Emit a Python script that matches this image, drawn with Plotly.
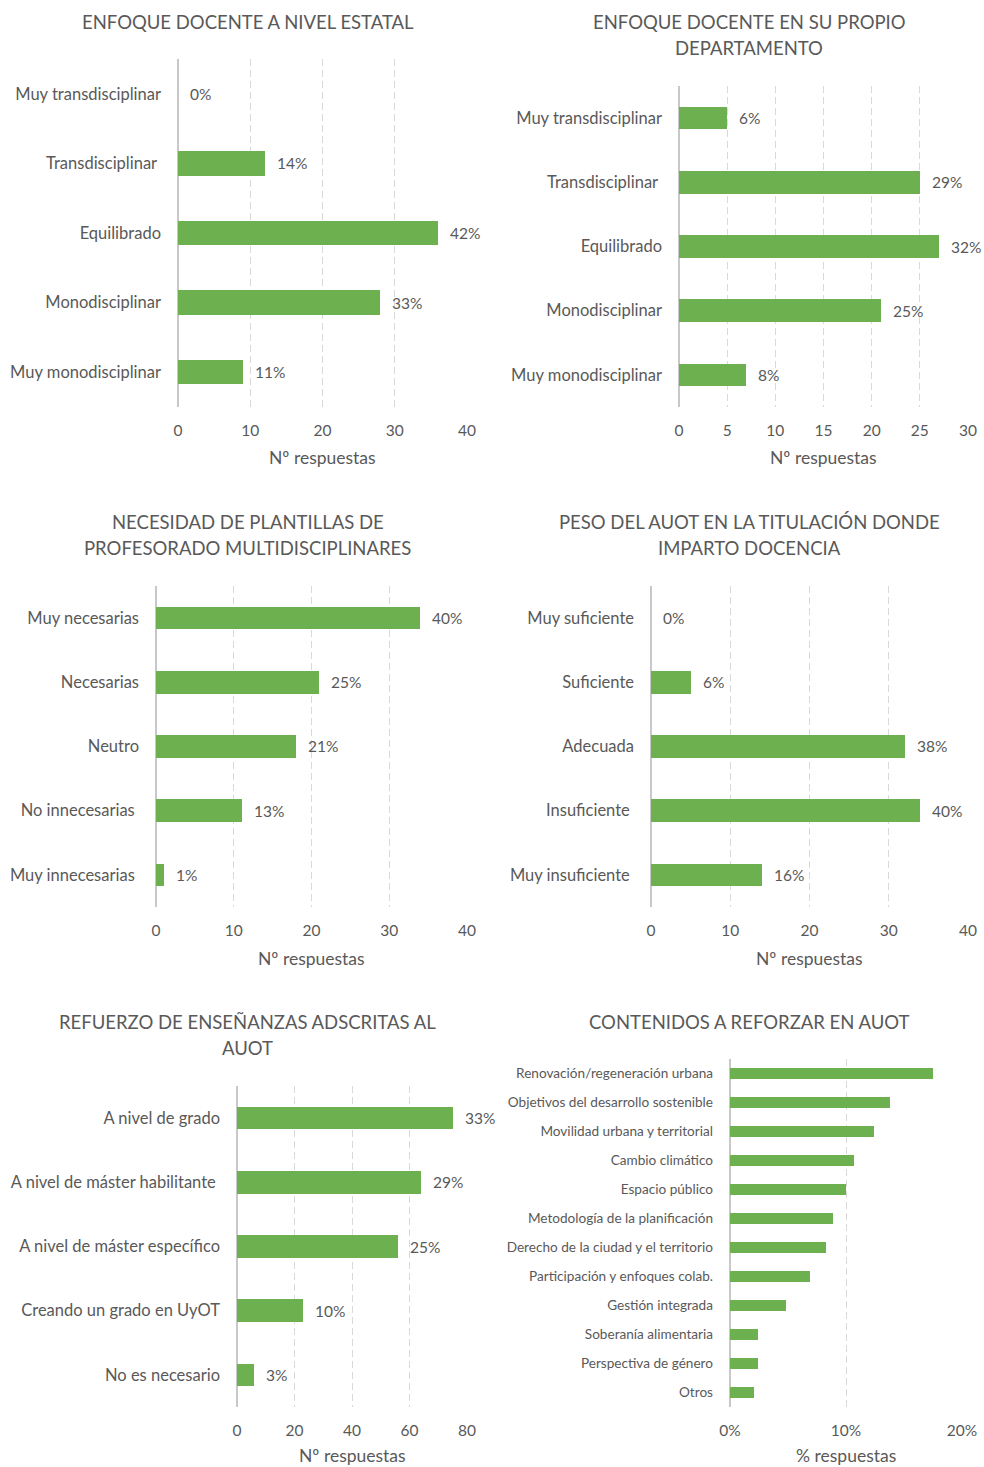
import plotly.graph_objects as go

W, H = 984, 1467
GREEN = "#6DB050"
TXT = "#595959"
GRID = "#D9D9D9"
AXIS = "#C8C8C8"
FONT = "Lato, 'Open Sans', sans-serif"

# ---------------- DATA ----------------
title1 = ["ENFOQUE DOCENTE A NIVEL ESTATAL"]
cat1 = ["Muy transdisciplinar", "Transdisciplinar\u00a0", "Equilibrado", "Monodisciplinar", "Muy monodisciplinar"]
val1 = [0, 12, 36, 28, 9]
lab1 = ["0%", "14%", "42%", "33%", "11%"]

title2 = ["ENFOQUE DOCENTE EN SU PROPIO", "DEPARTAMENTO"]
cat2 = ["Muy transdisciplinar", "Transdisciplinar\u00a0", "Equilibrado", "Monodisciplinar", "Muy monodisciplinar"]
val2 = [5, 25, 27, 21, 7]
lab2 = ["6%", "29%", "32%", "25%", "8%"]

title3 = ["NECESIDAD DE PLANTILLAS DE", "PROFESORADO MULTIDISCIPLINARES"]
cat3 = ["Muy necesarias", "Necesarias", "Neutro", "No innecesarias\u00a0", "Muy innecesarias\u00a0"]
val3 = [34, 21, 18, 11, 1]
lab3 = ["40%", "25%", "21%", "13%", "1%"]

title4 = ["PESO DEL AUOT EN LA TITULACIÓN DONDE", "IMPARTO DOCENCIA"]
cat4 = ["Muy suficiente", "Suficiente", "Adecuada", "Insuficiente\u00a0", "Muy insuficiente\u00a0"]
val4 = [0, 5, 32, 34, 14]
lab4 = ["0%", "6%", "38%", "40%", "16%"]

title5 = ["REFUERZO DE ENSEÑANZAS ADSCRITAS AL", "AUOT"]
cat5 = ["A nivel de grado", "A nivel de máster habilitante\u00a0", "A nivel de máster específico",
        "Creando un grado en UyOT", "No es necesario"]
val5 = [75, 64, 56, 23, 6]
lab5 = ["33%", "29%", "25%", "10%", "3%"]

title6 = ["CONTENIDOS A REFORZAR EN AUOT"]
cat6 = ["Renovación/regeneración urbana", "Objetivos del desarrollo sostenible",
        "Movilidad urbana y territorial", "Cambio climático", "Espacio público",
        "Metodología de la planificación", "Derecho de la ciudad y el territorio",
        "Participación y enfoques colab.", "Gestión integrada", "Soberanía alimentaria",
        "Perspectiva de género", "Otros"]
val6 = [17.5, 13.8, 12.4, 10.7, 10.0, 8.9, 8.25, 6.9, 4.8, 2.4, 2.4, 2.1]

xtitle = "Nº respuestas"
xtitle6 = "% respuestas"

# ---------------- LAYOUT (pixel boxes) ----------------
panels = [
    dict(title=title1, cats=cat1, vals=val1, labs=lab1, box=(178, 467, 59, 407), xmax=40, dtick=10,
         tcx=248, tcy=22, axt=xtitle, axoff=51, suffix="", catsize=16.5, width=0.35),
    dict(title=title2, cats=cat2, vals=val2, labs=lab2, box=(679, 968, 86, 407), xmax=30, dtick=5,
         tcx=749, tcy=22, axt=xtitle, axoff=51, suffix="", catsize=16.5, width=0.35),
    dict(title=title3, cats=cat3, vals=val3, labs=lab3, box=(156, 467, 586, 907), xmax=40, dtick=10,
         tcx=248, tcy=522, axt=xtitle, axoff=51, suffix="", catsize=16.5, width=0.35),
    dict(title=title4, cats=cat4, vals=val4, labs=lab4, box=(651, 968, 586, 907), xmax=40, dtick=10,
         tcx=749, tcy=522, axt=xtitle, axoff=51, suffix="", catsize=16.5, width=0.35),
    dict(title=title5, cats=cat5, vals=val5, labs=lab5, box=(237, 467, 1086, 1407), xmax=80, dtick=20,
         tcx=248, tcy=1022, axt=xtitle, axoff=48, suffix="", catsize=16.5, width=0.35),
    dict(title=title6, cats=cat6, vals=val6, labs=None, box=(730, 962, 1059, 1407), xmax=20, dtick=10,
         tcx=749, tcy=1022, axt=xtitle6, axoff=48, suffix="%", catsize=13.6, width=0.38),
]

fig = go.Figure()
annotations = []

def px_x(p):
    return p / W

def px_y(p):
    return 1 - p / H

for i, p in enumerate(panels, start=1):
    xs = "" if i == 1 else str(i)
    xref, yref = "x" + xs, "y" + xs
    x0, x1, y0, y1 = p["box"]
    fig.add_trace(go.Bar(
        x=p["vals"], y=p["cats"], orientation="h",
        marker=dict(color=GREEN, line=dict(width=0)),
        width=p["width"], xaxis=xref, yaxis=yref, showlegend=False,
        hoverinfo="x+y",
    ))
    n = len(p["cats"])
    fig.layout["xaxis" + xs] = dict(
        domain=[px_x(x0), px_x(x1)], anchor=yref, range=[0, p["xmax"]], dtick=p["dtick"],
        tick0=0, ticksuffix=p["suffix"], showgrid=True, gridcolor=GRID, griddash="7px,4px",
        gridwidth=1, zeroline=True, zerolinecolor=AXIS, zerolinewidth=1.5, showline=False,
        ticks="", tickfont=dict(family=FONT, size=15.5, color=TXT), ticklabelstandoff=12,
        fixedrange=True, automargin=False,
    )
    fig.layout["yaxis" + xs] = dict(
        domain=[px_y(y1), px_y(y0)], anchor=xref, type="category",
        categoryorder="array", categoryarray=p["cats"], range=[n - 0.5, -0.5],
        showgrid=False, zeroline=False, showline=False, ticks="",
        tickfont=dict(family=FONT, size=p["catsize"], color=TXT), ticklabelstandoff=16,
        fixedrange=True, automargin=False,
    )
    # data labels
    if p["labs"]:
        for v, c, t in zip(p["vals"], p["cats"], p["labs"]):
            annotations.append(dict(
                x=v, y=c, xref=xref, yref=yref, text=t, showarrow=False,
                xanchor="left", yanchor="middle", xshift=10,
                font=dict(family=FONT, size=15.5, color=TXT),
            ))
    # titles
    for k, line in enumerate(p["title"]):
        annotations.append(dict(
            x=px_x(p["tcx"]), y=px_y(p["tcy"] + 26 * k), xref="paper", yref="paper",
            text=line, showarrow=False, xanchor="center", yanchor="middle",
            font=dict(family=FONT, size=18.5, color=TXT),
        ))
    # axis title
    annotations.append(dict(
        x=px_x((x0 + x1) / 2), y=px_y(y1 + p["axoff"]), xref="paper", yref="paper",
        text=p["axt"], showarrow=False, xanchor="center", yanchor="middle",
        font=dict(family=FONT, size=17.5, color=TXT),
    ))

fig.update_layout(
    width=W, height=H, margin=dict(l=0, r=0, t=0, b=0, autoexpand=False),
    paper_bgcolor="white", plot_bgcolor="white",
    annotations=annotations, bargap=0,
    font=dict(family=FONT, color=TXT),
)

fig.write_html(
    "out.html",
    config={"displayModeBar": False},
    post_script="document.body.style.margin='0px';document.body.style.overflow='hidden';",
)
